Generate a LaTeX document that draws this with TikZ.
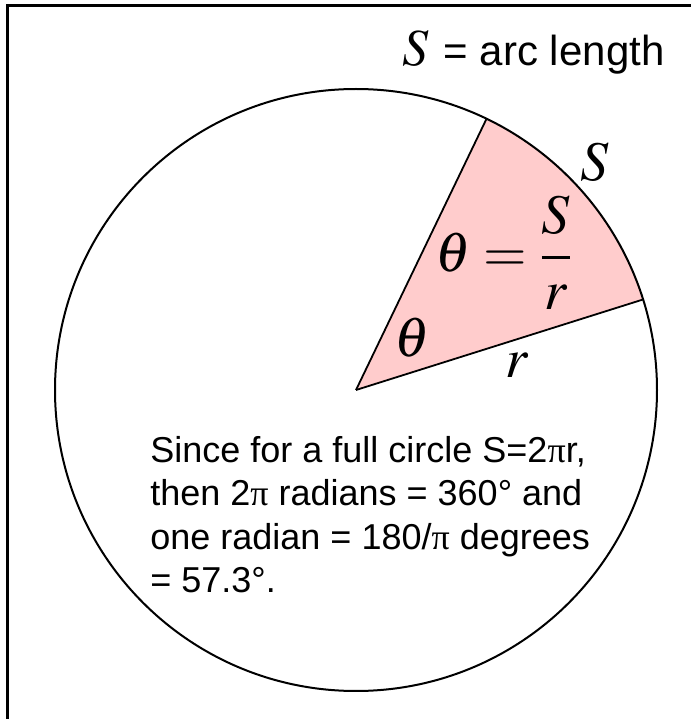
\documentclass[tikz,border=0pt]{standalone}
\usepackage{mathptmx}
\usepackage{fontspec}
\setmainfont{Liberation Sans}
\newfontfamily\serifpi{Liberation Serif}
\usetikzlibrary{positioning, calc}
\definecolor{cSector}{HTML}{FFCCCC}
\newcommand{\uppiglyph}{{\serifpi π}}
\tikzset{
  frameline/.style={line width=1.5pt, draw=black},
  rim/.style={line width=1pt, draw=black},
  sector/.style={fill=cSector},
  radius line/.style={line width=0.9pt, draw=black},
  mathlabel/.style={inner sep=0pt, font=\fontsize{28}{30}\selectfont},
  titlelabel/.style={inner sep=0pt, anchor=base west},
  bodytext/.style={
    inner sep=0pt,
    align=left,
    anchor=north west,
    font=\fontsize{18}{21.75}\selectfont
  }
}

\begin{document}
\begin{tikzpicture}[x=0.5pt, y=0.5pt]
  \useasboundingbox (0,0) rectangle (691,719);
  \draw[frameline] (7,0) -- (7,713) -- (691,713);

  \coordinate (O) at (356,329);
  \coordinate (A) at ($(O)+(64.3:301)$);
  \coordinate (B) at ($(O)+(17.5:301)$);

  \fill[sector] (O) -- (B) arc[start angle=17.5, end angle=64.3, radius=150.5pt] -- cycle;
  \draw[rim] (O) circle[radius=150.5pt];
  \draw[radius line] (O) -- (A);
  \draw[radius line] (O) -- (B);

  \node[titlelabel] (title) at (402,653)
    {{\fontsize{26}{28}\selectfont$S$}\hspace{7.5pt}{\fontsize{21}{24}\selectfont= arc length}};
  \node[mathlabel] (arclbl) at (595,557) {$S$};
  \node[mathlabel] (ratio) at (504,466) {$\displaystyle\theta=\frac{S}{r}$};
  \node[mathlabel] (angle) at (412,381) {$\theta$};
  \node[mathlabel] (radlbl) at (517,354) {$r$};

  \node[bodytext] (note) at (150,283)
    {Since for a full circle S=2\uppiglyph r,\\
     then 2\uppiglyph\ radians = 360° and\\
     one radian = 180/\uppiglyph\ degrees\\
     = 57.3°.};
\end{tikzpicture}
\end{document}
